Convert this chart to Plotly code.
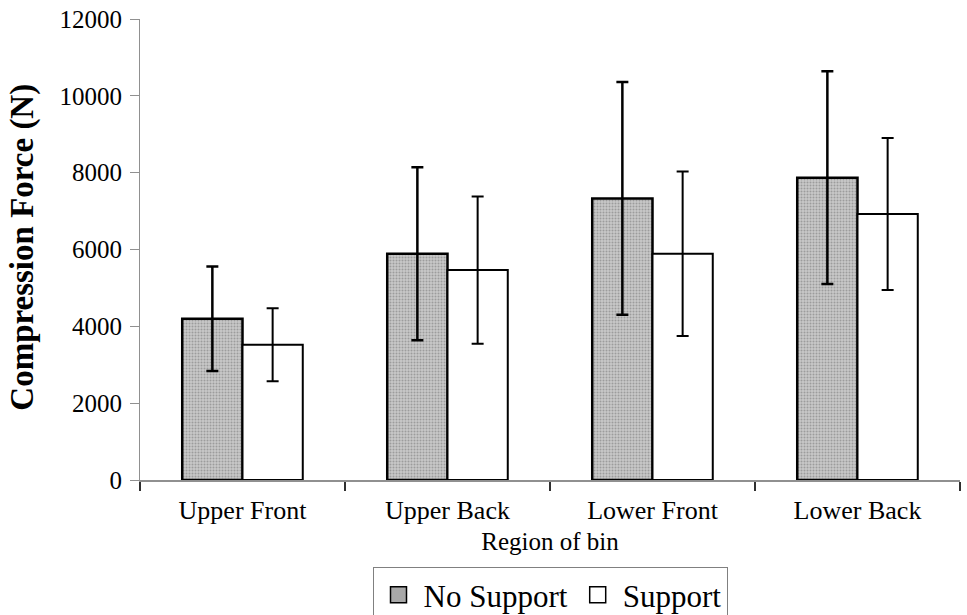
import plotly.graph_objects as go

categories = ["Upper Front", "Upper Back", "Lower Front", "Lower Back"]
no_support = [4200, 5890, 7330, 7870]
no_support_err = [1360, 2250, 3030, 2770]
support = [3520, 5465, 5890, 6925]
support_err = [950, 1915, 2140, 1980]
y_ticks = [0, 2000, 4000, 6000, 8000, 10000, 12000]
y_tick_labels = [str(v) for v in y_ticks]

FONT = "Liberation Serif, Times New Roman, serif"
NS_FILL = "#b8b8b8"

fig = go.Figure()
fig.add_trace(go.Bar(
    name="No Support", x=categories, y=no_support, showlegend=False,
    marker=dict(color=NS_FILL, line=dict(color="black", width=2.5),
                pattern=dict(shape=".", size=3, solidity=0.35, fgcolor="#707070", bgcolor="#c8c8c8")),
    error_y=dict(type="data", array=no_support_err, visible=True, color="black", thickness=2.5, width=6),
))
fig.add_trace(go.Bar(
    name="Support", x=categories, y=support, showlegend=False,
    marker=dict(color="white", line=dict(color="black", width=2)),
    error_y=dict(type="data", array=support_err, visible=True, color="black", thickness=2, width=6),
))
# legend entries (square swatches like the reference)
fig.add_trace(go.Scatter(
    name="No Support", x=[None], y=[None], mode="markers",
    marker=dict(symbol="square", size=19, color="#a8a8a8", line=dict(color="black", width=1.5)),
))
fig.add_trace(go.Scatter(
    name="Support", x=[None], y=[None], mode="markers",
    marker=dict(symbol="square", size=19, color="white", line=dict(color="black", width=1.5)),
))

fig.update_layout(
    width=967, height=615,
    margin=dict(l=139.5, r=7, t=19, b=135, autoexpand=False),
    paper_bgcolor="white", plot_bgcolor="white",
    barmode="group", bargap=0.412, bargroupgap=0,
    font=dict(family=FONT, size=25, color="black"),
    showlegend=True,
    legend=dict(orientation="h", x=0.5, xanchor="center", y=-0.189, yanchor="top",
                bordercolor="#808080", borderwidth=1, font=dict(size=31, family=FONT),
                traceorder="normal", itemwidth=40),
    xaxis=dict(title=dict(text="Region of bin", font=dict(size=25), standoff=8),
               showline=True, linecolor="#909090", linewidth=2,
               ticks="outside", tickson="boundaries", ticklen=9, tickcolor="#303030", tickwidth=2,
               tickfont=dict(size=26), showgrid=False, ticklabelstandoff=6),
    yaxis=dict(range=[0, 12001], tickvals=y_ticks, ticktext=y_tick_labels,
               showline=True, linecolor="#909090", linewidth=1,
               ticks="outside", ticklen=9, tickcolor="#909090", tickwidth=1,
               tickfont=dict(size=25), showgrid=False, zeroline=False, ticklabelstandoff=3,
               ticklabeloverflow="allow"),
    annotations=[dict(text="<b>Compression Force (N)</b>", textangle=-90,
                      xref="paper", yref="paper", x=0, y=0.505, xanchor="center", yanchor="middle",
                      xshift=-117.5, showarrow=False, font=dict(size=33, family=FONT, color="black"))],
)

fig.write_html("out.html", config={"displayModeBar": False},
               post_script="document.body.style.margin='0';document.body.style.padding='0';")
